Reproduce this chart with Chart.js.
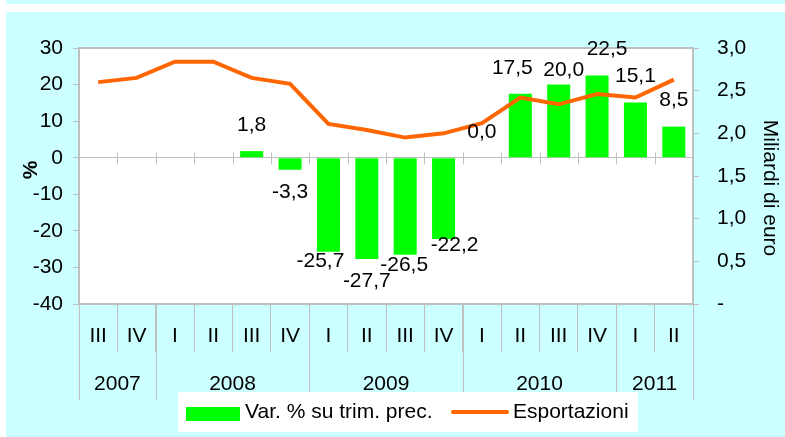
<!DOCTYPE html>
<html>
<head>
<meta charset="utf-8">
<script src="https://cdn.jsdelivr.net/npm/chart.js@4.4.1/dist/chart.umd.min.js"></script>
<style>
  html, body { margin: 0; padding: 0; background: #fff; }
  #wrap { width: 785px; height: 437px; }
</style>
</head>
<body>
<div id="wrap"><canvas id="chart" width="785" height="437"></canvas></div>
<script>
// quarters 2007 III .. 2011 II
const quarters = ['III', 'IV', 'I', 'II', 'III', 'IV', 'I', 'II', 'III', 'IV', 'I', 'II', 'III', 'IV', 'I', 'II'];
const years = ['2007', '2008', '2009', '2010', '2011'];
const quartersPerYear = [2, 4, 4, 4, 2];

// Var. % su trim. prec. (left axis)
const varPct = [null, null, null, null, 1.8, -3.3, -25.7, -27.7, -26.5, -22.2, 0.0, 17.5, 20.0, 22.5, 15.1, 8.5];
// Esportazioni, miliardi di euro (right axis)
const exportsBn = [2.60, 2.65, 2.84, 2.84, 2.65, 2.58, 2.11, 2.04, 1.95, 2.00, 2.12, 2.42, 2.34, 2.46, 2.42, 2.63];

const FONT = '"Liberation Sans", Arial, sans-serif';
const FS = 21;
const GREY = '#bfbfbf';
const CYAN = '#ccffff';

// hand placement of some value labels, as in the original
const labelNudge = { 6: [-8, -12], 8: [-1, -11], 9: [11, -16], 11: [-8, 0], 12: [5, 12], 13: [10, 0] };

const fmt = v => v.toFixed(1).replace('.', ',');

const decor = {
  id: 'decor',
  beforeDraw(chart) {
    const { ctx, chartArea: a } = chart;
    ctx.save();
    ctx.fillStyle = '#fff';
    ctx.fillRect(0, 0, chart.width, chart.height);
    ctx.fillStyle = CYAN;
    ctx.fillRect(6, 0, chart.width - 6, 4);
    ctx.fillRect(6, 12, chart.width - 6, chart.height - 12);
    ctx.fillStyle = '#fff';
    ctx.fillRect(a.left, a.top, a.right - a.left, a.bottom - a.top);
    ctx.strokeStyle = GREY;
    ctx.lineWidth = 2;
    ctx.strokeRect(a.left, a.top, a.right - a.left, a.bottom - a.top);
    ctx.restore();
  },
  afterDatasetsDraw(chart) {
    const { ctx } = chart;
    const meta = chart.getDatasetMeta(0);
    ctx.save();
    ctx.font = FS + 'px ' + FONT;
    ctx.fillStyle = '#000';
    ctx.textAlign = 'center';
    ctx.textBaseline = 'middle';
    meta.data.forEach((bar, i) => {
      const v = varPct[i];
      if (v === null) return;
      const n = labelNudge[i] || [0, 0];
      const y = v >= 0 ? bar.y - 26 : bar.y + 22;
      ctx.fillText(fmt(v), bar.x + n[0], y + n[1]);
    });
    ctx.restore();
  },
  afterDraw(chart) {
    const { ctx, chartArea: a } = chart;
    const x = chart.scales.x, y = chart.scales.y;
    const half = (x.getPixelForValue(1) - x.getPixelForValue(0)) / 2;
    const y0 = Math.round(y.getPixelForValue(0)) + 0.5;
    ctx.save();
    ctx.strokeStyle = GREY;
    ctx.lineWidth = 1;
    // tick marks crossing the zero line
    ctx.beginPath();
    for (let i = 1; i < quarters.length; i++) {
      const bx = Math.round(x.getPixelForValue(i) - half) + 0.5;
      ctx.moveTo(bx, y0 - 6);
      ctx.lineTo(bx, y0 + 6);
    }
    ctx.stroke();

    // year separators
    let idx = 0;
    const yearBounds = [0];
    quartersPerYear.forEach(q => { idx += q; yearBounds.push(idx); });
    ctx.beginPath();
    yearBounds.forEach(b => {
      const bx = Math.round(x.getPixelForValue(b) - half) + 0.5;
      ctx.moveTo(bx, a.bottom);
      ctx.lineTo(bx, a.bottom + 96);
    });
    ctx.stroke();

    ctx.fillStyle = '#000';
    ctx.font = FS + 'px ' + FONT;
    ctx.textAlign = 'center';
    ctx.textBaseline = 'middle';
    quarters.forEach((q, i) => ctx.fillText(q, x.getPixelForValue(i), a.bottom + 32));
    years.forEach((yr, k) => {
      const cx = (x.getPixelForValue(yearBounds[k]) + x.getPixelForValue(yearBounds[k + 1] - 1)) / 2;
      ctx.fillText(yr, cx, a.bottom + 80);
    });

    // axis titles
    ctx.save();
    ctx.translate(31, 170);
    ctx.rotate(-Math.PI / 2);
    ctx.font = 'bold ' + FS + 'px ' + FONT;
    ctx.fillText('%', 0, 0);
    ctx.restore();
    ctx.save();
    ctx.translate(770, 188);
    ctx.rotate(Math.PI / 2);
    ctx.fillText('Miliardi di euro', 0, 0);
    ctx.restore();

    // legend
    const ds = chart.data.datasets;
    ctx.fillStyle = '#fff';
    ctx.fillRect(178, 392, 460, 40);
    ctx.fillStyle = ds[0].backgroundColor;
    ctx.fillRect(186, 407, 54, 14);
    ctx.strokeStyle = ds[1].borderColor;
    ctx.lineWidth = 4;
    ctx.lineCap = 'round';
    ctx.beginPath();
    ctx.moveTo(453, 412);
    ctx.lineTo(507, 412);
    ctx.stroke();
    ctx.fillStyle = '#000';
    ctx.textAlign = 'left';
    ctx.fillText(ds[0].label, 245, 412);
    ctx.fillText(ds[1].label, 513, 412);
    ctx.restore();
  }
};

new Chart(document.getElementById('chart'), {
  data: {
    labels: quarters,
    datasets: [
      {
        type: 'bar',
        label: 'Var. % su trim. prec.',
        data: varPct,
        backgroundColor: '#00ff00',
        categoryPercentage: 1,
        barPercentage: 0.6,
        yAxisID: 'y',
        order: 2
      },
      {
        type: 'line',
        label: 'Esportazioni',
        data: exportsBn,
        borderColor: '#ff6600',
        borderWidth: 4,
        pointRadius: 0,
        tension: 0,
        yAxisID: 'y1',
        order: 1
      }
    ]
  },
  options: {
    responsive: false,
    animation: false,
    devicePixelRatio: 1,
    layout: { padding: { top: 48, left: 0, right: 0, bottom: 0 } },
    plugins: { legend: { display: false }, tooltip: { enabled: false } },
    scales: {
      x: {
        offset: true,
        grid: { offset: true, drawOnChartArea: false, color: GREY, tickColor: GREY, tickLength: 48 },
        border: { color: GREY, width: 2 },
        ticks: { display: false },
        afterFit: s => { s.height = 133; }
      },
      y: {
        position: 'left',
        min: -40,
        max: 30,
        ticks: { stepSize: 10, color: '#000', padding: 10, font: { size: FS, family: FONT } },
        grid: {
          color: c => (c.tick && c.tick.value === 0 ? GREY : 'rgba(0,0,0,0)'),
          tickColor: GREY,
          tickLength: 6
        },
        border: { color: GREY, width: 2 },
        afterFit: s => { s.width = 79; }
      },
      y1: {
        position: 'right',
        min: 0,
        max: 3,
        ticks: {
          stepSize: 0.5,
          color: '#000',
          padding: 18,
          font: { size: FS, family: FONT },
          callback: v => (v === 0 ? '-' : fmt(v))
        },
        grid: { drawOnChartArea: false, color: GREY, tickColor: GREY, tickLength: 6 },
        border: { color: GREY, width: 2 },
        afterFit: s => { s.width = 92; }
      }
    }
  },
  plugins: [decor]
});
</script>
</body>
</html>
